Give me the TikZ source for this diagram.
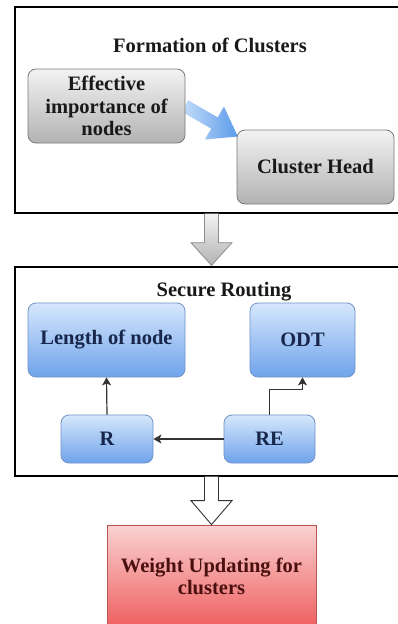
\documentclass[tikz,border=0pt]{standalone}
\usepackage{fontspec}
\setmainfont{Liberation Serif}
\usetikzlibrary{arrows.meta,calc}

\definecolor{gtop}{HTML}{F3F3F3}
\definecolor{gbot}{HTML}{B2B2B2}
\definecolor{gedge}{HTML}{7A7A7A}
\definecolor{btop}{HTML}{D6E7FC}
\definecolor{bbot}{HTML}{6FA3EC}
\definecolor{bedge}{HTML}{6F93C6}
\definecolor{btext}{HTML}{17264A}
\definecolor{rtop}{HTML}{FBD2D2}
\definecolor{rbot}{HTML}{EE5E5E}
\definecolor{redge}{HTML}{B85450}
\definecolor{rtext}{HTML}{4A1010}
\definecolor{atop}{HTML}{C4DDF9}
\definecolor{abot}{HTML}{5C9BEA}

\tikzset{
  frame/.style={draw=black, line width=1.3pt, fill=white, inner sep=0pt},
  title/.style={inner sep=0pt, text=black!90},
  graybox/.style={draw=gedge, line width=0.8pt, rounded corners=8pt,
    top color=gtop, bottom color=gbot, align=center, inner sep=0pt, text=black!90},
  bluebox/.style={draw=bedge, line width=0.8pt, rounded corners=8pt,
    top color=btop, bottom color=bbot, align=center, inner sep=0pt, text=btext},
  redbox/.style={draw=redge, line width=0.8pt,
    top color=rtop, bottom color=rbot, align=center, inner sep=0pt, text=rtext},
  link/.style={draw=black!80, line width=1.2pt, -{Stealth[width=9pt,length=8pt,inset=2pt]}},
  fatgray/.style={draw=black!45, line width=0.8pt, top color=gtop, bottom color=gbot},
  fatwhite/.style={draw=black!80, line width=0.9pt, fill=white},
  fatblue/.style={draw=none, left color=atop, right color=abot}
}

\begin{document}
\begin{tikzpicture}[x=1pt, y=-1pt, font=\fontsize{20.5}{22.5}\selectfont\bfseries]
\useasboundingbox (0,0) rectangle (398,624);
\fill[white] (0,0) rectangle (398,624);

% outer frames
\node[frame, minimum width=391pt, minimum height=206pt] (frame1) at (210.5,110) {};
\node[frame, minimum width=391pt, minimum height=209pt] (frame2) at (210.5,371.5) {};

% stage 1: formation of clusters
\node[title] (t1) at (210,45) {Formation of Clusters};
\coordinate (tail) at (185,106);
\begin{scope}[shift={(tail)}, rotate=-30]
  \path[fatblue] (0,-6.5) -- (34,-6.5) -- (34,-19) -- (61,0) -- (34,19) -- (34,6.5) -- (0,6.5) -- cycle;
\end{scope}
\node[graybox, minimum width=157pt, minimum height=74pt] (eff) at (106.5,106)
  {Effective\\importance of\\nodes};
\node[graybox, minimum width=157pt, minimum height=74pt] (ch) at (315.5,167) {Cluster Head};

% stage 2: secure routing
\node[title] (t2) at (224,292) {Secure Routing};
\node[bluebox, minimum width=157pt, minimum height=74pt] (len) at (106.5,340) {Length of node};
\node[bluebox, minimum width=105pt, minimum height=74pt] (odt) at (302.5,340) {ODT};
\node[bluebox, minimum width=92pt, minimum height=48pt] (r) at (107,439) {R};
\node[bluebox, minimum width=91pt, minimum height=48pt] (re) at (269.5,439) {RE};

\draw[link] (r.north) -- (len.south);
\draw[link] (re.west) -- (r.east);
\draw[link] (re.north) -- ++(0,-25) -| (odt.south);

% stage 3: weight updating
\node[redbox, minimum width=209pt, minimum height=103pt] (wu) at (211.5,576.5)
  {Weight Updating for\\clusters};

% block arrows between stages
\coordinate (a1) at ($(frame1.south -| wu.center)$);
\path[fatgray] ($(a1)+(-7,0)$) -- ++(0,29) -- ++(-13.5,0) -- ($(frame2.north -| a1)+(0,-1)$)
  -- ($(a1)+(20.5,29)$) -- ++(-13.5,0) -- ($(a1)+(7,0)$);
\coordinate (a2) at ($(frame2.south -| wu.center)$);
\path[fatwhite] ($(a2)+(-7,0)$) -- ++(0,24) -- ++(-13.5,0) -- (wu.north)
  -- ($(a2)+(20.5,24)$) -- ++(-13.5,0) -- ($(a2)+(7,0)$);
\end{tikzpicture}
\end{document}
